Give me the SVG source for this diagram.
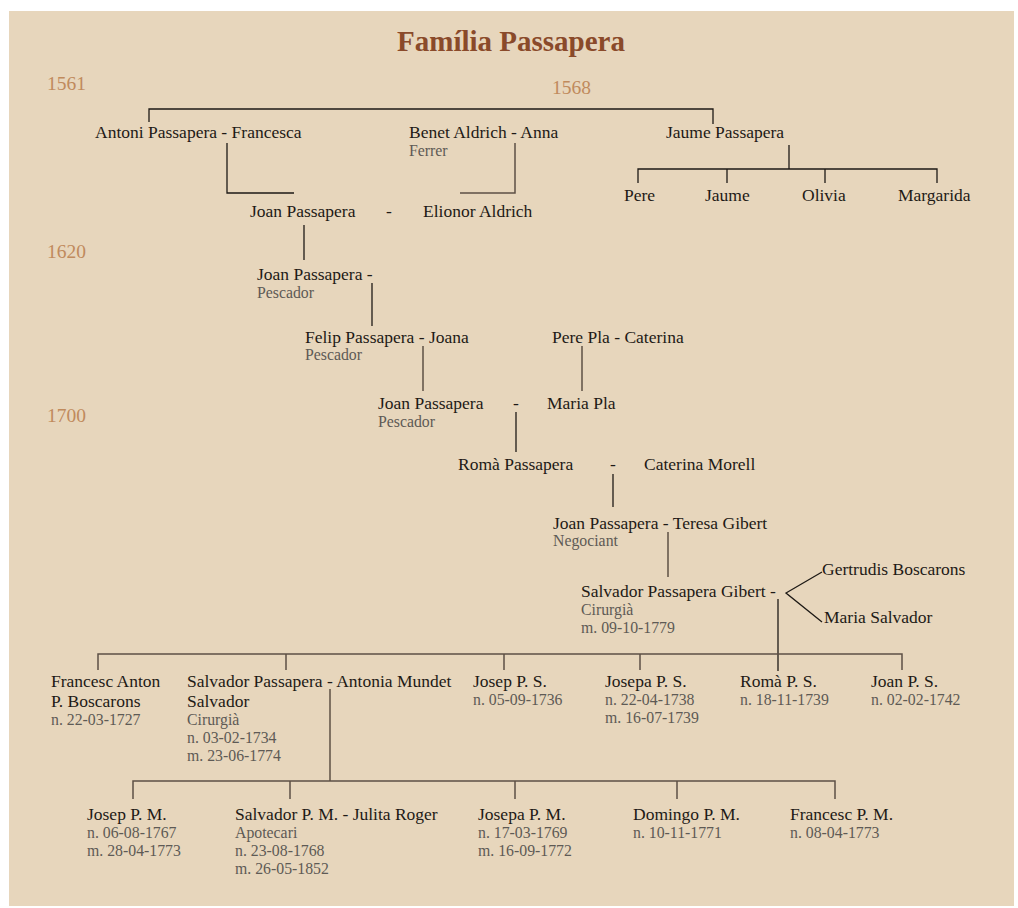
<svg xmlns="http://www.w3.org/2000/svg" width="1018" height="908" viewBox="0 0 1018 908">
<style>
.n{font-family:"Liberation Serif","DejaVu Serif",serif;font-size:17.5px;fill:#1e1a16}
.s{font-family:"Liberation Serif","DejaVu Serif",serif;font-size:15.8px;fill:#5e5a55}
.y{font-family:"Liberation Serif","DejaVu Serif",serif;font-size:19.5px;fill:#c08a5c}
.t{font-family:"Liberation Serif","DejaVu Serif",serif;font-size:29px;font-weight:bold;fill:#8a4a2a}
.k{stroke:#1e1a16;stroke-width:1.3;fill:none}
.g{stroke:#5e5045;stroke-width:1.5;fill:none}
</style>
<rect x="0" y="0" width="1018" height="908" fill="#ffffff"/>
<rect x="9" y="11" width="1005" height="895" fill="#e7d6bc"/>
<text class="t" x="511" y="51" text-anchor="middle">Família Passapera</text>
<g id="years">
<text class="y" x="47" y="90">1561</text>
<text class="y" x="552" y="94">1568</text>
<text class="y" x="47" y="258">1620</text>
<text class="y" x="47" y="422">1700</text>
</g>
<g id="connectors">
<path class="k" d="M149,122V109H713V124"/>
<path class="k" d="M227,143V193H294"/>
<path class="g" d="M515,143V193H460"/>
<path class="k" d="M789,145V169"/>
<path class="k" d="M638,183V169H937V183M727,169V183M825,169V183"/>
<path class="k" d="M304,225V260"/>
<path class="k" d="M372,283V326"/>
<path class="g" d="M423,346V391"/>
<path class="g" d="M582,346V391"/>
<path class="k" d="M516,412V452"/>
<path class="k" d="M613,474V507"/>
<path class="g" d="M668,532V577"/>
<path class="k" d="M822,572L786,593L822,622"/>
<path class="k" d="M778,599V671"/>
<path class="g" d="M98,670V654H902V670M286,654V670M504,654V670M640,654V670"/>
<path class="g" d="M330,689V781"/>
<path class="g" d="M133,799V781H835V799M290,781V799M515,781V799M677,781V799"/>
</g>
<g id="antoni"><text class="n" x="95" y="138">Antoni Passapera - Francesca</text></g>
<g id="benet"><text class="n" x="409" y="138">Benet Aldrich - Anna</text><text class="s" x="409" y="156">Ferrer</text></g>
<g id="jaume"><text class="n" x="666" y="138">Jaume Passapera</text></g>
<g id="pere1"><text class="n" x="624" y="201">Pere</text></g>
<g id="jaume2"><text class="n" x="705" y="201">Jaume</text></g>
<g id="olivia"><text class="n" x="802" y="201">Olivia</text></g>
<g id="margarida"><text class="n" x="898" y="201">Margarida</text></g>
<g id="joan1"><text class="n" x="250" y="217">Joan Passapera</text><text class="n" x="386" y="217">-</text><text class="n" x="423" y="217">Elionor Aldrich</text></g>
<g id="joan2"><text class="n" x="257" y="280">Joan Passapera -</text><text class="s" x="257" y="298">Pescador</text></g>
<g id="felip"><text class="n" x="305" y="343">Felip Passapera - Joana</text><text class="s" x="305" y="360">Pescador</text></g>
<g id="perepla"><text class="n" x="552" y="343">Pere Pla - Caterina</text></g>
<g id="joan3"><text class="n" x="378" y="409">Joan Passapera</text><text class="n" x="513" y="409">-</text><text class="n" x="547" y="409">Maria Pla</text><text class="s" x="378" y="427">Pescador</text></g>
<g id="roma"><text class="n" x="458" y="470">Romà Passapera</text><text class="n" x="610" y="470">-</text><text class="n" x="644" y="470">Caterina Morell</text></g>
<g id="joan4"><text class="n" x="553" y="529">Joan Passapera - Teresa Gibert</text><text class="s" x="553" y="546">Negociant</text></g>
<g id="salvador1"><text class="n" x="581" y="597">Salvador Passapera Gibert -</text><text class="s" x="581" y="615">Cirurgià</text><text class="s" x="581" y="633">m. 09-10-1779</text></g>
<g id="gertrudis"><text class="n" x="822" y="575">Gertrudis Boscarons</text></g>
<g id="mariasalvador"><text class="n" x="824" y="623">Maria Salvador</text></g>
<g id="francesc"><text class="n" x="51" y="687">Francesc Anton</text><text class="n" x="51" y="707">P. Boscarons</text><text class="s" x="51" y="725">n. 22-03-1727</text></g>
<g id="salvador2"><text class="n" x="187" y="687">Salvador Passapera - Antonia Mundet</text><text class="n" x="187" y="707">Salvador</text><text class="s" x="187" y="725">Cirurgià</text><text class="s" x="187" y="743">n. 03-02-1734</text><text class="s" x="187" y="761">m. 23-06-1774</text></g>
<g id="josepps"><text class="n" x="473" y="687">Josep P. S.</text><text class="s" x="473" y="705">n. 05-09-1736</text></g>
<g id="josepaps"><text class="n" x="605" y="687">Josepa P. S.</text><text class="s" x="605" y="705">n. 22-04-1738</text><text class="s" x="605" y="723">m. 16-07-1739</text></g>
<g id="romaps"><text class="n" x="740" y="687">Romà P. S.</text><text class="s" x="740" y="705">n. 18-11-1739</text></g>
<g id="joanps"><text class="n" x="871" y="687">Joan P. S.</text><text class="s" x="871" y="705">n. 02-02-1742</text></g>
<g id="joseppm"><text class="n" x="87" y="820">Josep P. M.</text><text class="s" x="87" y="838">n. 06-08-1767</text><text class="s" x="87" y="856">m. 28-04-1773</text></g>
<g id="salvadorpm"><text class="n" x="235" y="820">Salvador P. M. - Julita Roger</text><text class="s" x="235" y="838">Apotecari</text><text class="s" x="235" y="856">n. 23-08-1768</text><text class="s" x="235" y="874">m. 26-05-1852</text></g>
<g id="josepapm"><text class="n" x="478" y="820">Josepa P. M.</text><text class="s" x="478" y="838">n. 17-03-1769</text><text class="s" x="478" y="856">m. 16-09-1772</text></g>
<g id="domingopm"><text class="n" x="633" y="820">Domingo P. M.</text><text class="s" x="633" y="838">n. 10-11-1771</text></g>
<g id="francescpm"><text class="n" x="790" y="820">Francesc P. M.</text><text class="s" x="790" y="838">n. 08-04-1773</text></g>
</svg>
